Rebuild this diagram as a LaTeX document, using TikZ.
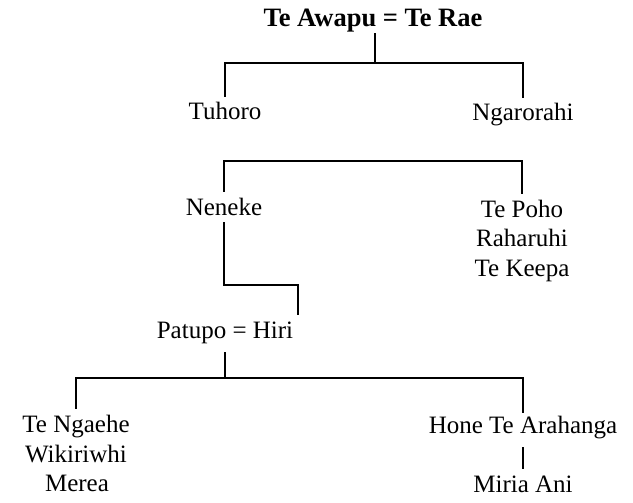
\documentclass[tikz,border=0pt]{standalone}
\usepackage{fontspec}
\setmainfont{Liberation Serif}
\begin{document}
\begin{tikzpicture}[x=1pt,y=-1pt,
  nm/.style={font=\fontsize{25}{29}\selectfont, anchor=base, inner sep=0pt, text height=24pt, text depth=8pt},
  deep/.style={text depth=15pt},
  link/.style={line width=1.6pt, line cap=rect}]
\useasboundingbox (0,0) rectangle (633,503);
% people
\node[nm, font=\fontsize{26.5}{29}\selectfont\bfseries, text depth=7pt] (title) at (373,27) {Te Awapu = Te Rae};
\node[nm] (tuhoro) at (225,120) {Tuhoro};
\node[nm] (ngaro) at (523,121) {Ngarorahi};
\node[nm] (neneke) at (224,215) {Neneke};
\node[nm] (tepoho) at (522,217) {Te Poho};
\node[nm] (raharuhi) at (522,247) {Raharuhi};
\node[nm] (tekeepa) at (522,276) {Te Keepa};
\node[nm, deep] (patupo) at (225,338) {Patupo = Hiri};
\node[nm] (tengaehe) at (76,432) {Te Ngaehe};
\node[nm] (wiki) at (76,462) {Wikiriwhi};
\node[nm] (merea) at (77,491) {Merea};
\node[nm, deep, text height=21pt] (hone) at (523,433) {Hone Te Arahanga};
\node[nm] (miria) at (523,492) {Miria Ani};
% junctions
\coordinate (j1) at (375,63);
\coordinate (j3) at (298,285);
\coordinate (j4) at (225,378);
% connectors
\draw[link] (title.south -| j1) -- (j1);
\draw[link] (tuhoro.north) |- (j1) -| (ngaro.north);
\draw[link] (neneke.north) -- ++(0,-30) -| (tepoho.north);
\draw[link] (neneke.south) |- (j3) -- (j3 |- patupo.north);
\draw[link] (patupo.south) -- (j4);
\draw[link] (tengaehe.north) |- (j4) -| (hone.north);
\draw[link] (hone.south) -- (miria.north);
\end{tikzpicture}
\end{document}
